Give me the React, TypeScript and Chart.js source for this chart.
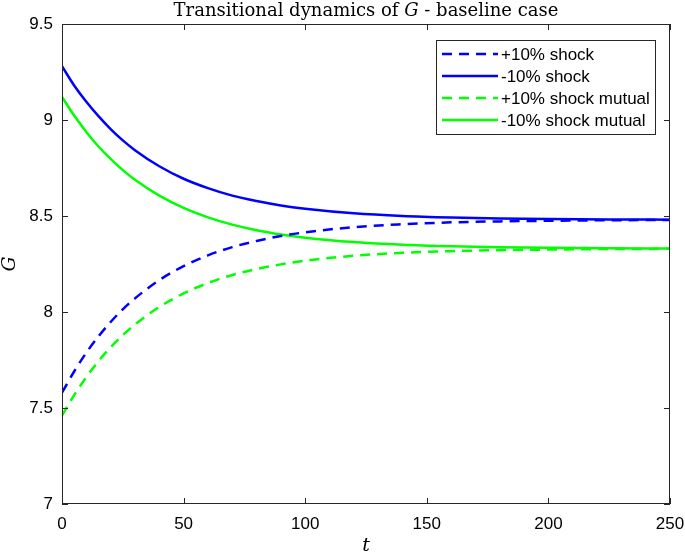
import React, { useEffect, useRef } from "react";
import { Chart, registerables } from "chart.js";

Chart.register(...registerables);

const tValues = [0, 5, 10, 15, 20, 25, 30, 40, 50, 60, 70, 80, 90, 100, 120, 140, 160, 180, 200, 225, 250];
const bluePlus = [7.58, 7.69, 7.788, 7.873, 7.948, 8.014, 8.071, 8.166, 8.239, 8.295, 8.338, 8.37, 8.396, 8.415, 8.442, 8.457, 8.467, 8.472, 8.475, 8.478, 8.479];
const blueMinus = [9.28, 9.18, 9.095, 9.02, 8.953, 8.894, 8.843, 8.759, 8.694, 8.645, 8.606, 8.578, 8.555, 8.538, 8.514, 8.5, 8.492, 8.487, 8.484, 8.482, 8.481];
const greenPlus = [7.46, 7.567, 7.661, 7.744, 7.816, 7.879, 7.935, 8.026, 8.097, 8.151, 8.193, 8.224, 8.248, 8.267, 8.293, 8.308, 8.317, 8.322, 8.325, 8.328, 8.329];
const greenMinus = [9.12, 9.023, 8.938, 8.862, 8.797, 8.739, 8.689, 8.606, 8.542, 8.493, 8.455, 8.426, 8.404, 8.387, 8.364, 8.35, 8.342, 8.337, 8.334, 8.332, 8.331];

const seriesLabels = ["+10% shock", "-10% shock", "+10% shock mutual", "-10% shock mutual"];
const xTicks = [0, 50, 100, 150, 200, 250];
const yTicks = [7, 7.5, 8, 8.5, 9, 9.5];

const BLUE = "#0000ff";
const GREEN = "#00ff00";
const AXIS = "#262626";
const DASH = [10, 7];

const toPts = (ys: number[]) => tValues.map((t, i) => ({ x: t, y: ys[i] }));

const decorPlugin = {
  id: "decor",
  afterDraw(chart: any) {
    const { ctx, chartArea } = chart;
    const { left, right, top, bottom } = chartArea;
    const xs = chart.scales.x;
    const ys = chart.scales.y;
    ctx.save();
    // box
    ctx.strokeStyle = AXIS;
    ctx.lineWidth = 1;
    ctx.setLineDash([]);
    ctx.strokeRect(Math.round(left) + 0.5, Math.round(top) + 0.5, Math.round(right - left) - 1, Math.round(bottom - top) - 1);
    const tl = 6;
    ctx.beginPath();
    xTicks.forEach((v) => {
      const px = Math.round(xs.getPixelForValue(v)) + 0.5;
      ctx.moveTo(px, bottom);
      ctx.lineTo(px, bottom - tl);
      ctx.moveTo(px, top);
      ctx.lineTo(px, top + tl);
    });
    yTicks.forEach((v) => {
      const py = Math.round(ys.getPixelForValue(v)) + 0.5;
      ctx.moveTo(left, py);
      ctx.lineTo(left + tl, py);
      ctx.moveTo(right, py);
      ctx.lineTo(right - tl, py);
    });
    ctx.stroke();

    // title with italic G
    ctx.fillStyle = "#000";
    ctx.textBaseline = "alphabetic";
    ctx.textAlign = "left";
    const p1 = "Transitional dynamics of ";
    const p2 = "G";
    const p3 = " - baseline case";
    const normal = '18px "DejaVu Serif"';
    const ital = 'italic 18px "DejaVu Serif"';
    ctx.font = normal;
    const w1 = ctx.measureText(p1).width;
    const w3 = ctx.measureText(p3).width;
    ctx.font = ital;
    const w2 = ctx.measureText(p2).width;
    const cx = (left + right) / 2;
    let sx = cx - (w1 + w2 + w3) / 2;
    const ty = 16;
    ctx.font = normal;
    ctx.fillText(p1, sx, ty);
    sx += w1;
    ctx.font = ital;
    ctx.fillText(p2, sx, ty);
    sx += w2;
    ctx.font = normal;
    ctx.fillText(p3, sx, ty);

    // axis titles
    ctx.font = 'italic 19px "DejaVu Serif"';
    ctx.textAlign = "center";
    ctx.fillText("t", cx, 551);
    ctx.save();
    ctx.translate(15, (top + bottom) / 2);
    ctx.rotate(-Math.PI / 2);
    ctx.fillText("G", 0, 0);
    ctx.restore();

    // legend
    const lx = 436, ly = 40, lw = 219, lh = 94;
    ctx.fillStyle = "#fff";
    ctx.fillRect(lx, ly, lw, lh);
    ctx.strokeStyle = AXIS;
    ctx.lineWidth = 1;
    ctx.strokeRect(lx + 0.5, ly + 0.5, lw, lh);
    ctx.font = '17px "Liberation Sans"';
    ctx.textAlign = "left";
    ctx.textBaseline = "middle";
    chart.data.datasets.forEach((ds: any, i: number) => {
      const ry = ly + 14 + i * 22;
      ctx.strokeStyle = ds.borderColor;
      ctx.lineWidth = 2.5;
      ctx.setLineDash(ds.borderDash || []);
      ctx.beginPath();
      ctx.moveTo(442, ry);
      ctx.lineTo(498, ry);
      ctx.stroke();
      ctx.setLineDash([]);
      ctx.fillStyle = "#000";
      ctx.fillText(ds.label, 501, ry + 1);
    });
    ctx.restore();
  },
};

export default function App() {
  const ref = useRef<HTMLCanvasElement | null>(null);
  useEffect(() => {
    document.body.style.margin = "0";
    const canvas = ref.current;
    if (!canvas) return;
    const mk = (label: string, data: number[], color: string, dashed: boolean) => ({
      label,
      data: toPts(data),
      borderColor: color,
      backgroundColor: color,
      borderWidth: 2.5,
      borderDash: dashed ? DASH : [],
      pointRadius: 0,
      cubicInterpolationMode: "monotone" as const,
      fill: false,
    });
    const chart = new Chart(canvas, {
      type: "line",
      data: {
        datasets: [
          mk(seriesLabels[0], bluePlus, BLUE, true),
          mk(seriesLabels[1], blueMinus, BLUE, false),
          mk(seriesLabels[2], greenPlus, GREEN, true),
          mk(seriesLabels[3], greenMinus, GREEN, false),
        ],
      },
      options: {
        animation: false,
        responsive: false,
        maintainAspectRatio: false,
        devicePixelRatio: 1,
        layout: { padding: { top: 24, right: 0, left: 0, bottom: 0 } },
        plugins: { legend: { display: false }, title: { display: false }, tooltip: { enabled: false } },
        scales: {
          x: {
            type: "linear",
            min: 0,
            max: 250,
            grid: { display: false, drawTicks: false },
            border: { display: false },
            afterBuildTicks: (s: any) => { s.ticks = xTicks.map((v) => ({ value: v })); },
            afterFit: (s: any) => { s.height = 52; s.paddingRight = 15; s.paddingLeft = 0; },
            ticks: {
              color: "#000",
              font: { family: "Liberation Sans", size: 17 },
              padding: 10,
              maxRotation: 0,
              callback: (v: any) => String(v),
            },
          },
          y: {
            type: "linear",
            min: 7,
            max: 9.5,
            grid: { display: false, drawTicks: false },
            border: { display: false },
            afterBuildTicks: (s: any) => { s.ticks = yTicks.map((v) => ({ value: v })); },
            afterFit: (s: any) => { s.width = 62; s.paddingTop = 0; s.paddingBottom = 0; },
            ticks: {
              color: "#000",
              font: { family: "Liberation Sans", size: 17 },
              padding: 9,
              callback: (v: any) => String(v),
            },
          },
        },
      },
      plugins: [decorPlugin],
    });
    return () => chart.destroy();
  }, []);
  return (
    <div style={{ position: "absolute", left: 0, top: 0, width: 685, height: 556 }}>
      <canvas ref={ref} width={685} height={556} style={{ display: "block", width: 685, height: 556 }} />
    </div>
  );
}
